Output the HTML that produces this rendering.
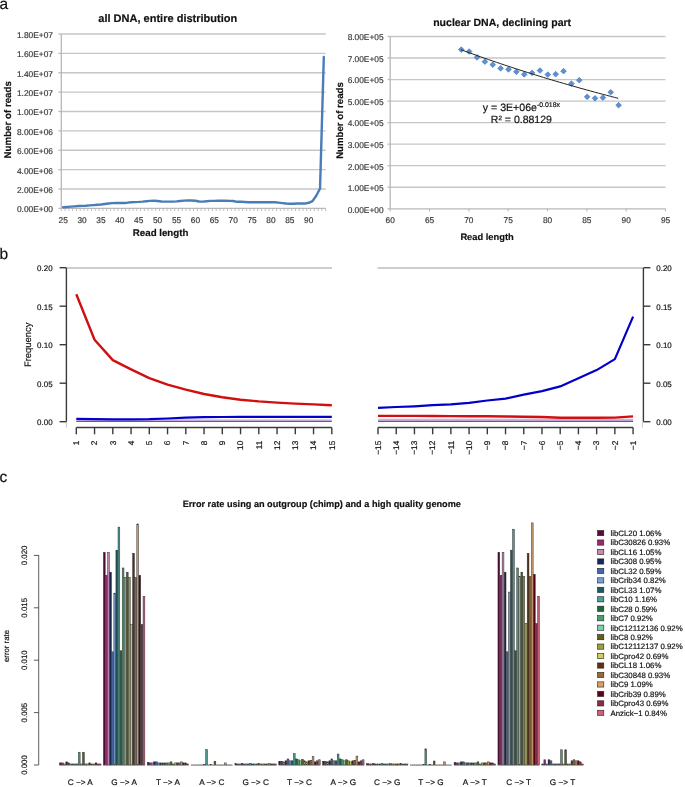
<!DOCTYPE html>
<html><head><meta charset="utf-8"><style>
html,body{margin:0;padding:0;background:#fff;width:685px;height:787px;overflow:hidden}
svg{display:block;will-change:transform;font-family:"Liberation Sans", sans-serif}
text{stroke-width:0.18px;text-rendering:geometricPrecision}
</style></head><body>
<svg width="685" height="787" viewBox="0 0 685 787">
<rect width="685" height="787" fill="#fff"/>
<text x="-0.5" y="9.2" font-size="15.5" fill="#111" stroke="#111">a</text>
<text x="-0.5" y="259.2" font-size="15.5" fill="#111" stroke="#111">b</text>
<text x="-0.5" y="481.8" font-size="15.5" fill="#111" stroke="#111">c</text>
<line x1="61.3" y1="189.02" x2="325.7" y2="189.02" stroke="#c6c6c6" stroke-width="1.3"/>
<line x1="61.3" y1="169.64" x2="325.7" y2="169.64" stroke="#c6c6c6" stroke-width="1.3"/>
<line x1="61.3" y1="150.26" x2="325.7" y2="150.26" stroke="#c6c6c6" stroke-width="1.3"/>
<line x1="61.3" y1="130.88" x2="325.7" y2="130.88" stroke="#c6c6c6" stroke-width="1.3"/>
<line x1="61.3" y1="111.5" x2="325.7" y2="111.5" stroke="#c6c6c6" stroke-width="1.3"/>
<line x1="61.3" y1="92.12" x2="325.7" y2="92.12" stroke="#c6c6c6" stroke-width="1.3"/>
<line x1="61.3" y1="72.74" x2="325.7" y2="72.74" stroke="#c6c6c6" stroke-width="1.3"/>
<line x1="61.3" y1="53.36" x2="325.7" y2="53.36" stroke="#c6c6c6" stroke-width="1.3"/>
<line x1="61.3" y1="33.98" x2="325.7" y2="33.98" stroke="#c6c6c6" stroke-width="1.3"/>
<line x1="61.3" y1="33.98" x2="61.3" y2="208.4" stroke="#b8b8b8" stroke-width="1.3"/>
<line x1="58.4" y1="208.4" x2="61.3" y2="208.4" stroke="#b8b8b8" stroke-width="1.3"/>
<text x="53" y="212.3" font-size="8.4" fill="#383838" stroke="#383838" text-anchor="end">0.00E+00</text>
<line x1="58.4" y1="189.02" x2="61.3" y2="189.02" stroke="#b8b8b8" stroke-width="1.3"/>
<text x="53" y="192.92" font-size="8.4" fill="#383838" stroke="#383838" text-anchor="end">2.00E+06</text>
<line x1="58.4" y1="169.64" x2="61.3" y2="169.64" stroke="#b8b8b8" stroke-width="1.3"/>
<text x="53" y="173.54" font-size="8.4" fill="#383838" stroke="#383838" text-anchor="end">4.00E+06</text>
<line x1="58.4" y1="150.26" x2="61.3" y2="150.26" stroke="#b8b8b8" stroke-width="1.3"/>
<text x="53" y="154.16" font-size="8.4" fill="#383838" stroke="#383838" text-anchor="end">6.00E+06</text>
<line x1="58.4" y1="130.88" x2="61.3" y2="130.88" stroke="#b8b8b8" stroke-width="1.3"/>
<text x="53" y="134.78" font-size="8.4" fill="#383838" stroke="#383838" text-anchor="end">8.00E+06</text>
<line x1="58.4" y1="111.5" x2="61.3" y2="111.5" stroke="#b8b8b8" stroke-width="1.3"/>
<text x="53" y="115.4" font-size="8.4" fill="#383838" stroke="#383838" text-anchor="end">1.00E+07</text>
<line x1="58.4" y1="92.12" x2="61.3" y2="92.12" stroke="#b8b8b8" stroke-width="1.3"/>
<text x="53" y="96.02" font-size="8.4" fill="#383838" stroke="#383838" text-anchor="end">1.20E+07</text>
<line x1="58.4" y1="72.74" x2="61.3" y2="72.74" stroke="#b8b8b8" stroke-width="1.3"/>
<text x="53" y="76.64" font-size="8.4" fill="#383838" stroke="#383838" text-anchor="end">1.40E+07</text>
<line x1="58.4" y1="53.36" x2="61.3" y2="53.36" stroke="#b8b8b8" stroke-width="1.3"/>
<text x="53" y="57.26" font-size="8.4" fill="#383838" stroke="#383838" text-anchor="end">1.60E+07</text>
<line x1="58.4" y1="33.98" x2="61.3" y2="33.98" stroke="#b8b8b8" stroke-width="1.3"/>
<text x="53" y="37.88" font-size="8.4" fill="#383838" stroke="#383838" text-anchor="end">1.80E+07</text>
<line x1="61.3" y1="208.4" x2="325.7" y2="208.4" stroke="#b8b8b8" stroke-width="1.3"/>
<line x1="61.3" y1="208.4" x2="61.3" y2="211" stroke="#b8b8b8" stroke-width="0.9"/>
<line x1="65.08" y1="208.4" x2="65.08" y2="211" stroke="#b8b8b8" stroke-width="0.9"/>
<line x1="68.85" y1="208.4" x2="68.85" y2="211" stroke="#b8b8b8" stroke-width="0.9"/>
<line x1="72.63" y1="208.4" x2="72.63" y2="211" stroke="#b8b8b8" stroke-width="0.9"/>
<line x1="76.41" y1="208.4" x2="76.41" y2="211" stroke="#b8b8b8" stroke-width="0.9"/>
<line x1="80.19" y1="208.4" x2="80.19" y2="211" stroke="#b8b8b8" stroke-width="0.9"/>
<line x1="83.96" y1="208.4" x2="83.96" y2="211" stroke="#b8b8b8" stroke-width="0.9"/>
<line x1="87.74" y1="208.4" x2="87.74" y2="211" stroke="#b8b8b8" stroke-width="0.9"/>
<line x1="91.52" y1="208.4" x2="91.52" y2="211" stroke="#b8b8b8" stroke-width="0.9"/>
<line x1="95.29" y1="208.4" x2="95.29" y2="211" stroke="#b8b8b8" stroke-width="0.9"/>
<line x1="99.07" y1="208.4" x2="99.07" y2="211" stroke="#b8b8b8" stroke-width="0.9"/>
<line x1="102.85" y1="208.4" x2="102.85" y2="211" stroke="#b8b8b8" stroke-width="0.9"/>
<line x1="106.63" y1="208.4" x2="106.63" y2="211" stroke="#b8b8b8" stroke-width="0.9"/>
<line x1="110.4" y1="208.4" x2="110.4" y2="211" stroke="#b8b8b8" stroke-width="0.9"/>
<line x1="114.18" y1="208.4" x2="114.18" y2="211" stroke="#b8b8b8" stroke-width="0.9"/>
<line x1="117.96" y1="208.4" x2="117.96" y2="211" stroke="#b8b8b8" stroke-width="0.9"/>
<line x1="121.73" y1="208.4" x2="121.73" y2="211" stroke="#b8b8b8" stroke-width="0.9"/>
<line x1="125.51" y1="208.4" x2="125.51" y2="211" stroke="#b8b8b8" stroke-width="0.9"/>
<line x1="129.29" y1="208.4" x2="129.29" y2="211" stroke="#b8b8b8" stroke-width="0.9"/>
<line x1="133.07" y1="208.4" x2="133.07" y2="211" stroke="#b8b8b8" stroke-width="0.9"/>
<line x1="136.84" y1="208.4" x2="136.84" y2="211" stroke="#b8b8b8" stroke-width="0.9"/>
<line x1="140.62" y1="208.4" x2="140.62" y2="211" stroke="#b8b8b8" stroke-width="0.9"/>
<line x1="144.4" y1="208.4" x2="144.4" y2="211" stroke="#b8b8b8" stroke-width="0.9"/>
<line x1="148.17" y1="208.4" x2="148.17" y2="211" stroke="#b8b8b8" stroke-width="0.9"/>
<line x1="151.95" y1="208.4" x2="151.95" y2="211" stroke="#b8b8b8" stroke-width="0.9"/>
<line x1="155.73" y1="208.4" x2="155.73" y2="211" stroke="#b8b8b8" stroke-width="0.9"/>
<line x1="159.51" y1="208.4" x2="159.51" y2="211" stroke="#b8b8b8" stroke-width="0.9"/>
<line x1="163.28" y1="208.4" x2="163.28" y2="211" stroke="#b8b8b8" stroke-width="0.9"/>
<line x1="167.06" y1="208.4" x2="167.06" y2="211" stroke="#b8b8b8" stroke-width="0.9"/>
<line x1="170.84" y1="208.4" x2="170.84" y2="211" stroke="#b8b8b8" stroke-width="0.9"/>
<line x1="174.61" y1="208.4" x2="174.61" y2="211" stroke="#b8b8b8" stroke-width="0.9"/>
<line x1="178.39" y1="208.4" x2="178.39" y2="211" stroke="#b8b8b8" stroke-width="0.9"/>
<line x1="182.17" y1="208.4" x2="182.17" y2="211" stroke="#b8b8b8" stroke-width="0.9"/>
<line x1="185.95" y1="208.4" x2="185.95" y2="211" stroke="#b8b8b8" stroke-width="0.9"/>
<line x1="189.72" y1="208.4" x2="189.72" y2="211" stroke="#b8b8b8" stroke-width="0.9"/>
<line x1="193.5" y1="208.4" x2="193.5" y2="211" stroke="#b8b8b8" stroke-width="0.9"/>
<line x1="197.28" y1="208.4" x2="197.28" y2="211" stroke="#b8b8b8" stroke-width="0.9"/>
<line x1="201.05" y1="208.4" x2="201.05" y2="211" stroke="#b8b8b8" stroke-width="0.9"/>
<line x1="204.83" y1="208.4" x2="204.83" y2="211" stroke="#b8b8b8" stroke-width="0.9"/>
<line x1="208.61" y1="208.4" x2="208.61" y2="211" stroke="#b8b8b8" stroke-width="0.9"/>
<line x1="212.39" y1="208.4" x2="212.39" y2="211" stroke="#b8b8b8" stroke-width="0.9"/>
<line x1="216.16" y1="208.4" x2="216.16" y2="211" stroke="#b8b8b8" stroke-width="0.9"/>
<line x1="219.94" y1="208.4" x2="219.94" y2="211" stroke="#b8b8b8" stroke-width="0.9"/>
<line x1="223.72" y1="208.4" x2="223.72" y2="211" stroke="#b8b8b8" stroke-width="0.9"/>
<line x1="227.49" y1="208.4" x2="227.49" y2="211" stroke="#b8b8b8" stroke-width="0.9"/>
<line x1="231.27" y1="208.4" x2="231.27" y2="211" stroke="#b8b8b8" stroke-width="0.9"/>
<line x1="235.05" y1="208.4" x2="235.05" y2="211" stroke="#b8b8b8" stroke-width="0.9"/>
<line x1="238.83" y1="208.4" x2="238.83" y2="211" stroke="#b8b8b8" stroke-width="0.9"/>
<line x1="242.6" y1="208.4" x2="242.6" y2="211" stroke="#b8b8b8" stroke-width="0.9"/>
<line x1="246.38" y1="208.4" x2="246.38" y2="211" stroke="#b8b8b8" stroke-width="0.9"/>
<line x1="250.16" y1="208.4" x2="250.16" y2="211" stroke="#b8b8b8" stroke-width="0.9"/>
<line x1="253.93" y1="208.4" x2="253.93" y2="211" stroke="#b8b8b8" stroke-width="0.9"/>
<line x1="257.71" y1="208.4" x2="257.71" y2="211" stroke="#b8b8b8" stroke-width="0.9"/>
<line x1="261.49" y1="208.4" x2="261.49" y2="211" stroke="#b8b8b8" stroke-width="0.9"/>
<line x1="265.27" y1="208.4" x2="265.27" y2="211" stroke="#b8b8b8" stroke-width="0.9"/>
<line x1="269.04" y1="208.4" x2="269.04" y2="211" stroke="#b8b8b8" stroke-width="0.9"/>
<line x1="272.82" y1="208.4" x2="272.82" y2="211" stroke="#b8b8b8" stroke-width="0.9"/>
<line x1="276.6" y1="208.4" x2="276.6" y2="211" stroke="#b8b8b8" stroke-width="0.9"/>
<line x1="280.37" y1="208.4" x2="280.37" y2="211" stroke="#b8b8b8" stroke-width="0.9"/>
<line x1="284.15" y1="208.4" x2="284.15" y2="211" stroke="#b8b8b8" stroke-width="0.9"/>
<line x1="287.93" y1="208.4" x2="287.93" y2="211" stroke="#b8b8b8" stroke-width="0.9"/>
<line x1="291.71" y1="208.4" x2="291.71" y2="211" stroke="#b8b8b8" stroke-width="0.9"/>
<line x1="295.48" y1="208.4" x2="295.48" y2="211" stroke="#b8b8b8" stroke-width="0.9"/>
<line x1="299.26" y1="208.4" x2="299.26" y2="211" stroke="#b8b8b8" stroke-width="0.9"/>
<line x1="303.04" y1="208.4" x2="303.04" y2="211" stroke="#b8b8b8" stroke-width="0.9"/>
<line x1="306.81" y1="208.4" x2="306.81" y2="211" stroke="#b8b8b8" stroke-width="0.9"/>
<line x1="310.59" y1="208.4" x2="310.59" y2="211" stroke="#b8b8b8" stroke-width="0.9"/>
<line x1="314.37" y1="208.4" x2="314.37" y2="211" stroke="#b8b8b8" stroke-width="0.9"/>
<line x1="318.15" y1="208.4" x2="318.15" y2="211" stroke="#b8b8b8" stroke-width="0.9"/>
<line x1="321.92" y1="208.4" x2="321.92" y2="211" stroke="#b8b8b8" stroke-width="0.9"/>
<line x1="325.7" y1="208.4" x2="325.7" y2="211" stroke="#b8b8b8" stroke-width="0.9"/>
<text x="63.19" y="222.6" font-size="8.3" fill="#383838" stroke="#383838" text-anchor="middle">25</text>
<text x="82.07" y="222.6" font-size="8.3" fill="#383838" stroke="#383838" text-anchor="middle">30</text>
<text x="100.96" y="222.6" font-size="8.3" fill="#383838" stroke="#383838" text-anchor="middle">35</text>
<text x="119.85" y="222.6" font-size="8.3" fill="#383838" stroke="#383838" text-anchor="middle">40</text>
<text x="138.73" y="222.6" font-size="8.3" fill="#383838" stroke="#383838" text-anchor="middle">45</text>
<text x="157.62" y="222.6" font-size="8.3" fill="#383838" stroke="#383838" text-anchor="middle">50</text>
<text x="176.5" y="222.6" font-size="8.3" fill="#383838" stroke="#383838" text-anchor="middle">55</text>
<text x="195.39" y="222.6" font-size="8.3" fill="#383838" stroke="#383838" text-anchor="middle">60</text>
<text x="214.27" y="222.6" font-size="8.3" fill="#383838" stroke="#383838" text-anchor="middle">65</text>
<text x="233.16" y="222.6" font-size="8.3" fill="#383838" stroke="#383838" text-anchor="middle">70</text>
<text x="252.05" y="222.6" font-size="8.3" fill="#383838" stroke="#383838" text-anchor="middle">75</text>
<text x="270.93" y="222.6" font-size="8.3" fill="#383838" stroke="#383838" text-anchor="middle">80</text>
<text x="289.82" y="222.6" font-size="8.3" fill="#383838" stroke="#383838" text-anchor="middle">85</text>
<text x="308.7" y="222.6" font-size="8.3" fill="#383838" stroke="#383838" text-anchor="middle">90</text>
<polyline points="63.19,207.24 66.97,206.95 70.74,206.66 74.52,206.37 78.3,206.07 82.07,205.88 85.85,205.69 89.63,205.4 93.41,205.11 97.18,204.81 100.96,204.52 104.74,204.04 108.51,203.56 112.29,203.17 116.07,202.97 119.85,202.97 123.62,202.97 127.4,202.68 131.18,202.3 134.95,202.1 138.73,201.91 142.51,201.62 146.29,201.23 150.06,200.84 153.84,200.74 157.62,200.94 161.39,201.52 165.17,201.62 168.95,201.62 172.73,201.62 176.5,201.42 180.28,201.04 184.06,200.65 187.83,200.55 191.61,200.55 195.39,200.74 199.17,201.52 202.94,201.62 206.72,201.23 210.5,200.84 214.27,200.84 218.05,200.74 221.83,200.74 225.61,200.74 229.38,200.84 233.16,201.04 236.94,201.81 240.71,201.62 244.49,202 248.27,202.3 252.05,202.3 255.82,202.3 259.6,202.3 263.38,202.3 267.15,202.3 270.93,202.2 274.71,202.2 278.49,202.59 282.26,203.07 286.04,203.56 289.82,203.75 293.59,203.75 297.37,203.56 301.15,203.36 304.93,203.56 308.7,202.78 312.48,201.13 316.26,195.8 320.03,188.54 323.81,56.95" fill="none" stroke="#4a7cb8" stroke-width="2.4" stroke-linejoin="round" stroke-linecap="round"/>
<text x="98.3" y="21.8" font-size="11.03" font-weight="bold" fill="#111" stroke="#111">all DNA, entire distribution</text>
<text x="132.8" y="236.1" font-size="9.72" font-weight="bold" fill="#111" stroke="#111">Read length</text>
<text transform="translate(10.8,119.8) rotate(-90)" font-size="9.72" font-weight="bold" fill="#111" stroke="#111" text-anchor="middle">Number of reads</text>
<line x1="390.2" y1="187.26" x2="665.5" y2="187.26" stroke="#c6c6c6" stroke-width="1.3"/>
<line x1="390.2" y1="165.72" x2="665.5" y2="165.72" stroke="#c6c6c6" stroke-width="1.3"/>
<line x1="390.2" y1="144.18" x2="665.5" y2="144.18" stroke="#c6c6c6" stroke-width="1.3"/>
<line x1="390.2" y1="122.64" x2="665.5" y2="122.64" stroke="#c6c6c6" stroke-width="1.3"/>
<line x1="390.2" y1="101.1" x2="665.5" y2="101.1" stroke="#c6c6c6" stroke-width="1.3"/>
<line x1="390.2" y1="79.56" x2="665.5" y2="79.56" stroke="#c6c6c6" stroke-width="1.3"/>
<line x1="390.2" y1="58.02" x2="665.5" y2="58.02" stroke="#c6c6c6" stroke-width="1.3"/>
<line x1="390.2" y1="36.48" x2="665.5" y2="36.48" stroke="#c6c6c6" stroke-width="1.3"/>
<line x1="390.2" y1="36.48" x2="390.2" y2="208.8" stroke="#b8b8b8" stroke-width="1.3"/>
<line x1="387.6" y1="208.8" x2="390.2" y2="208.8" stroke="#b8b8b8" stroke-width="1.3"/>
<text x="383.6" y="212.6" font-size="8.35" fill="#383838" stroke="#383838" text-anchor="end">0.00E+00</text>
<line x1="387.6" y1="187.26" x2="390.2" y2="187.26" stroke="#b8b8b8" stroke-width="1.3"/>
<text x="383.6" y="191.06" font-size="8.35" fill="#383838" stroke="#383838" text-anchor="end">1.00E+05</text>
<line x1="387.6" y1="165.72" x2="390.2" y2="165.72" stroke="#b8b8b8" stroke-width="1.3"/>
<text x="383.6" y="169.52" font-size="8.35" fill="#383838" stroke="#383838" text-anchor="end">2.00E+05</text>
<line x1="387.6" y1="144.18" x2="390.2" y2="144.18" stroke="#b8b8b8" stroke-width="1.3"/>
<text x="383.6" y="147.98" font-size="8.35" fill="#383838" stroke="#383838" text-anchor="end">3.00E+05</text>
<line x1="387.6" y1="122.64" x2="390.2" y2="122.64" stroke="#b8b8b8" stroke-width="1.3"/>
<text x="383.6" y="126.44" font-size="8.35" fill="#383838" stroke="#383838" text-anchor="end">4.00E+05</text>
<line x1="387.6" y1="101.1" x2="390.2" y2="101.1" stroke="#b8b8b8" stroke-width="1.3"/>
<text x="383.6" y="104.9" font-size="8.35" fill="#383838" stroke="#383838" text-anchor="end">5.00E+05</text>
<line x1="387.6" y1="79.56" x2="390.2" y2="79.56" stroke="#b8b8b8" stroke-width="1.3"/>
<text x="383.6" y="83.36" font-size="8.35" fill="#383838" stroke="#383838" text-anchor="end">6.00E+05</text>
<line x1="387.6" y1="58.02" x2="390.2" y2="58.02" stroke="#b8b8b8" stroke-width="1.3"/>
<text x="383.6" y="61.82" font-size="8.35" fill="#383838" stroke="#383838" text-anchor="end">7.00E+05</text>
<line x1="387.6" y1="36.48" x2="390.2" y2="36.48" stroke="#b8b8b8" stroke-width="1.3"/>
<text x="383.6" y="40.28" font-size="8.35" fill="#383838" stroke="#383838" text-anchor="end">8.00E+05</text>
<line x1="390.2" y1="208.8" x2="665.5" y2="208.8" stroke="#b8b8b8" stroke-width="1.3"/>
<line x1="390.2" y1="208.8" x2="390.2" y2="211.4" stroke="#b8b8b8" stroke-width="1.1"/>
<text x="390.2" y="222.9" font-size="8.3" fill="#383838" stroke="#383838" text-anchor="middle">60</text>
<line x1="429.53" y1="208.8" x2="429.53" y2="211.4" stroke="#b8b8b8" stroke-width="1.1"/>
<text x="429.53" y="222.9" font-size="8.3" fill="#383838" stroke="#383838" text-anchor="middle">65</text>
<line x1="468.86" y1="208.8" x2="468.86" y2="211.4" stroke="#b8b8b8" stroke-width="1.1"/>
<text x="468.86" y="222.9" font-size="8.3" fill="#383838" stroke="#383838" text-anchor="middle">70</text>
<line x1="508.19" y1="208.8" x2="508.19" y2="211.4" stroke="#b8b8b8" stroke-width="1.1"/>
<text x="508.19" y="222.9" font-size="8.3" fill="#383838" stroke="#383838" text-anchor="middle">75</text>
<line x1="547.51" y1="208.8" x2="547.51" y2="211.4" stroke="#b8b8b8" stroke-width="1.1"/>
<text x="547.51" y="222.9" font-size="8.3" fill="#383838" stroke="#383838" text-anchor="middle">80</text>
<line x1="586.84" y1="208.8" x2="586.84" y2="211.4" stroke="#b8b8b8" stroke-width="1.1"/>
<text x="586.84" y="222.9" font-size="8.3" fill="#383838" stroke="#383838" text-anchor="middle">85</text>
<line x1="626.17" y1="208.8" x2="626.17" y2="211.4" stroke="#b8b8b8" stroke-width="1.1"/>
<text x="626.17" y="222.9" font-size="8.3" fill="#383838" stroke="#383838" text-anchor="middle">90</text>
<line x1="665.5" y1="208.8" x2="665.5" y2="211.4" stroke="#b8b8b8" stroke-width="1.1"/>
<text x="665.5" y="222.9" font-size="8.3" fill="#383838" stroke="#383838" text-anchor="middle">95</text>
<path d="M461.29,46.75 L464.14,49.6 L461.29,52.45 L458.44,49.6 Z" fill="#5f90d4" stroke="#3f6fb5" stroke-width="0.6"/>
<path d="M469.16,48.69 L472.01,51.54 L469.16,54.39 L466.31,51.54 Z" fill="#5f90d4" stroke="#3f6fb5" stroke-width="0.6"/>
<path d="M477.02,54.51 L479.87,57.36 L477.02,60.21 L474.17,57.36 Z" fill="#5f90d4" stroke="#3f6fb5" stroke-width="0.6"/>
<path d="M484.89,58.82 L487.74,61.67 L484.89,64.52 L482.04,61.67 Z" fill="#5f90d4" stroke="#3f6fb5" stroke-width="0.6"/>
<path d="M492.75,61.83 L495.6,64.68 L492.75,67.53 L489.9,64.68 Z" fill="#5f90d4" stroke="#3f6fb5" stroke-width="0.6"/>
<path d="M500.62,65.49 L503.47,68.34 L500.62,71.19 L497.77,68.34 Z" fill="#5f90d4" stroke="#3f6fb5" stroke-width="0.6"/>
<path d="M508.49,66.57 L511.34,69.42 L508.49,72.27 L505.64,69.42 Z" fill="#5f90d4" stroke="#3f6fb5" stroke-width="0.6"/>
<path d="M516.35,68.94 L519.2,71.79 L516.35,74.64 L513.5,71.79 Z" fill="#5f90d4" stroke="#3f6fb5" stroke-width="0.6"/>
<path d="M524.22,71.53 L527.07,74.38 L524.22,77.23 L521.37,74.38 Z" fill="#5f90d4" stroke="#3f6fb5" stroke-width="0.6"/>
<path d="M532.08,70.02 L534.93,72.87 L532.08,75.72 L529.23,72.87 Z" fill="#5f90d4" stroke="#3f6fb5" stroke-width="0.6"/>
<path d="M539.95,67.65 L542.8,70.5 L539.95,73.35 L537.1,70.5 Z" fill="#5f90d4" stroke="#3f6fb5" stroke-width="0.6"/>
<path d="M547.81,71.74 L550.66,74.59 L547.81,77.44 L544.96,74.59 Z" fill="#5f90d4" stroke="#3f6fb5" stroke-width="0.6"/>
<path d="M555.68,71.31 L558.53,74.16 L555.68,77.01 L552.83,74.16 Z" fill="#5f90d4" stroke="#3f6fb5" stroke-width="0.6"/>
<path d="M563.55,68.29 L566.4,71.14 L563.55,73.99 L560.7,71.14 Z" fill="#5f90d4" stroke="#3f6fb5" stroke-width="0.6"/>
<path d="M571.41,80.79 L574.26,83.64 L571.41,86.49 L568.56,83.64 Z" fill="#5f90d4" stroke="#3f6fb5" stroke-width="0.6"/>
<path d="M579.28,77.34 L582.13,80.19 L579.28,83.04 L576.43,80.19 Z" fill="#5f90d4" stroke="#3f6fb5" stroke-width="0.6"/>
<path d="M587.14,93.93 L589.99,96.78 L587.14,99.63 L584.29,96.78 Z" fill="#5f90d4" stroke="#3f6fb5" stroke-width="0.6"/>
<path d="M595.01,95.43 L597.86,98.28 L595.01,101.13 L592.16,98.28 Z" fill="#5f90d4" stroke="#3f6fb5" stroke-width="0.6"/>
<path d="M602.87,94.79 L605.72,97.64 L602.87,100.49 L600.02,97.64 Z" fill="#5f90d4" stroke="#3f6fb5" stroke-width="0.6"/>
<path d="M610.74,89.4 L613.59,92.25 L610.74,95.1 L607.89,92.25 Z" fill="#5f90d4" stroke="#3f6fb5" stroke-width="0.6"/>
<path d="M618.61,102.33 L621.46,105.18 L618.61,108.03 L615.76,105.18 Z" fill="#5f90d4" stroke="#3f6fb5" stroke-width="0.6"/>
<polyline points="460.99,49.73 464.92,51.17 468.86,52.6 472.79,54.02 476.72,55.43 480.66,56.82 484.59,58.2 488.52,59.56 492.45,60.92 496.39,62.26 500.32,63.59 504.25,64.91 508.19,66.22 512.12,67.51 516.05,68.79 519.98,70.07 523.92,71.32 527.85,72.57 531.78,73.81 535.72,75.04 539.65,76.25 543.58,77.45 547.51,78.65 551.45,79.83 555.38,81 559.31,82.16 563.25,83.31 567.18,84.45 571.11,85.58 575.04,86.69 578.98,87.8 582.91,88.9 586.84,89.99 590.78,91.07 594.71,92.14 598.64,93.2 602.57,94.25 606.51,95.29 610.44,96.32 614.37,97.34 618.31,98.35" fill="none" stroke="#222" stroke-width="1"/>
<text x="482.8" y="110.8" font-size="10.58" fill="#111" stroke="#111">y = 3E+06e<tspan dy="-3.9" font-size="6.9">-0.018x</tspan></text>
<text x="490.8" y="123.4" font-size="10.53" fill="#111" stroke="#111">R² = 0.88129</text>
<text x="433.2" y="25.8" font-size="10.52" font-weight="bold" fill="#111" stroke="#111">nuclear DNA, declining part</text>
<text x="460.4" y="239.8" font-size="9.32" font-weight="bold" fill="#111" stroke="#111">Read length</text>
<text transform="translate(342.7,120.5) rotate(-90)" font-size="9.66" font-weight="bold" fill="#111" stroke="#111" text-anchor="middle">Number of reads</text>
<line x1="66.4" y1="268" x2="332" y2="268" stroke="#bdbdbd" stroke-width="1.4"/>
<line x1="66.4" y1="268" x2="66.4" y2="421.7" stroke="#3a3a3a" stroke-width="1.4"/>
<line x1="66.6" y1="421.7" x2="66.6" y2="427.5" stroke="#c8c8c8" stroke-width="1"/>
<line x1="59.6" y1="421.7" x2="66.4" y2="421.7" stroke="#3a3a3a" stroke-width="1.4"/>
<text x="52.6" y="425" font-size="7.96" fill="#111" stroke="#111" text-anchor="end">0.00</text>
<line x1="59.6" y1="383.2" x2="66.4" y2="383.2" stroke="#3a3a3a" stroke-width="1.4"/>
<text x="52.6" y="386.5" font-size="7.96" fill="#111" stroke="#111" text-anchor="end">0.05</text>
<line x1="59.6" y1="344.7" x2="66.4" y2="344.7" stroke="#3a3a3a" stroke-width="1.4"/>
<text x="52.6" y="348" font-size="7.96" fill="#111" stroke="#111" text-anchor="end">0.10</text>
<line x1="59.6" y1="306.2" x2="66.4" y2="306.2" stroke="#3a3a3a" stroke-width="1.4"/>
<text x="52.6" y="309.5" font-size="7.96" fill="#111" stroke="#111" text-anchor="end">0.15</text>
<line x1="59.6" y1="267.7" x2="66.4" y2="267.7" stroke="#3a3a3a" stroke-width="1.4"/>
<text x="52.6" y="271" font-size="7.96" fill="#111" stroke="#111" text-anchor="end">0.20</text>
<text transform="translate(31.2,344.8) rotate(-90)" font-size="9.41" fill="#111" stroke="#111" text-anchor="middle">Frequency</text>
<line x1="76.3" y1="427.5" x2="331.8" y2="427.5" stroke="#3a3a3a" stroke-width="1.4"/>
<line x1="76.3" y1="427.5" x2="76.3" y2="434.3" stroke="#3a3a3a" stroke-width="1.4"/>
<text transform="translate(79.1,440.7) rotate(-90)" font-size="8.3" fill="#111" stroke="#111" text-anchor="end">1</text>
<line x1="94.55" y1="427.5" x2="94.55" y2="434.3" stroke="#3a3a3a" stroke-width="1.4"/>
<text transform="translate(97.35,440.7) rotate(-90)" font-size="8.3" fill="#111" stroke="#111" text-anchor="end">2</text>
<line x1="112.8" y1="427.5" x2="112.8" y2="434.3" stroke="#3a3a3a" stroke-width="1.4"/>
<text transform="translate(115.6,440.7) rotate(-90)" font-size="8.3" fill="#111" stroke="#111" text-anchor="end">3</text>
<line x1="131.05" y1="427.5" x2="131.05" y2="434.3" stroke="#3a3a3a" stroke-width="1.4"/>
<text transform="translate(133.85,440.7) rotate(-90)" font-size="8.3" fill="#111" stroke="#111" text-anchor="end">4</text>
<line x1="149.3" y1="427.5" x2="149.3" y2="434.3" stroke="#3a3a3a" stroke-width="1.4"/>
<text transform="translate(152.1,440.7) rotate(-90)" font-size="8.3" fill="#111" stroke="#111" text-anchor="end">5</text>
<line x1="167.55" y1="427.5" x2="167.55" y2="434.3" stroke="#3a3a3a" stroke-width="1.4"/>
<text transform="translate(170.35,440.7) rotate(-90)" font-size="8.3" fill="#111" stroke="#111" text-anchor="end">6</text>
<line x1="185.8" y1="427.5" x2="185.8" y2="434.3" stroke="#3a3a3a" stroke-width="1.4"/>
<text transform="translate(188.6,440.7) rotate(-90)" font-size="8.3" fill="#111" stroke="#111" text-anchor="end">7</text>
<line x1="204.05" y1="427.5" x2="204.05" y2="434.3" stroke="#3a3a3a" stroke-width="1.4"/>
<text transform="translate(206.85,440.7) rotate(-90)" font-size="8.3" fill="#111" stroke="#111" text-anchor="end">8</text>
<line x1="222.3" y1="427.5" x2="222.3" y2="434.3" stroke="#3a3a3a" stroke-width="1.4"/>
<text transform="translate(225.1,440.7) rotate(-90)" font-size="8.3" fill="#111" stroke="#111" text-anchor="end">9</text>
<line x1="240.55" y1="427.5" x2="240.55" y2="434.3" stroke="#3a3a3a" stroke-width="1.4"/>
<text transform="translate(243.35,440.7) rotate(-90)" font-size="8.3" fill="#111" stroke="#111" text-anchor="end">10</text>
<line x1="258.8" y1="427.5" x2="258.8" y2="434.3" stroke="#3a3a3a" stroke-width="1.4"/>
<text transform="translate(261.6,440.7) rotate(-90)" font-size="8.3" fill="#111" stroke="#111" text-anchor="end">11</text>
<line x1="277.05" y1="427.5" x2="277.05" y2="434.3" stroke="#3a3a3a" stroke-width="1.4"/>
<text transform="translate(279.85,440.7) rotate(-90)" font-size="8.3" fill="#111" stroke="#111" text-anchor="end">12</text>
<line x1="295.3" y1="427.5" x2="295.3" y2="434.3" stroke="#3a3a3a" stroke-width="1.4"/>
<text transform="translate(298.1,440.7) rotate(-90)" font-size="8.3" fill="#111" stroke="#111" text-anchor="end">13</text>
<line x1="313.55" y1="427.5" x2="313.55" y2="434.3" stroke="#3a3a3a" stroke-width="1.4"/>
<text transform="translate(316.35,440.7) rotate(-90)" font-size="8.3" fill="#111" stroke="#111" text-anchor="end">14</text>
<line x1="331.8" y1="427.5" x2="331.8" y2="434.3" stroke="#3a3a3a" stroke-width="1.4"/>
<text transform="translate(334.6,440.7) rotate(-90)" font-size="8.3" fill="#111" stroke="#111" text-anchor="end">15</text>
<polyline points="76.3,421.3 94.55,421.3 112.8,421.3 131.05,421.3 149.3,421.3 167.55,421.3 185.8,421.3 204.05,421.3 222.3,421.3 240.55,421.3 258.8,421.3 277.05,421.3 295.3,421.3 313.55,421.3 331.8,421.3" fill="none" stroke="#7a48b0" stroke-width="1.4" stroke-linejoin="round" />
<polyline points="76.3,419.8 94.55,419.8 112.8,419.8 131.05,419.8 149.3,419.8 167.55,419.8 185.8,419.8 204.05,419.8 222.3,419.8 240.55,419.8 258.8,419.8 277.05,419.8 295.3,419.8 313.55,419.8 331.8,419.8" fill="none" stroke="#d8b8f0" stroke-width="1.0" stroke-linejoin="round" />
<polyline points="76.3,418.8 94.55,419.2 112.8,419.3 131.05,419.3 149.3,419.2 167.55,418.5 185.8,417.6 204.05,417.2 222.3,417 240.55,416.9 258.8,416.9 277.05,416.9 295.3,416.8 313.55,416.8 331.8,416.8" fill="none" stroke="#0000c8" stroke-width="2.2" stroke-linejoin="round" />
<polyline points="76.3,294.3 94.55,339.7 112.8,360.1 131.05,369.4 149.3,378.2 167.55,384.6 185.8,389.6 204.05,394 222.3,397.3 240.55,399.7 258.8,401.4 277.05,402.6 295.3,403.6 313.55,404.4 331.8,405.3" fill="none" stroke="#d01010" stroke-width="2.4" stroke-linejoin="round" />
<line x1="377.6" y1="268" x2="643.4" y2="268" stroke="#bdbdbd" stroke-width="1.4"/>
<line x1="643.4" y1="268" x2="643.4" y2="421.7" stroke="#3a3a3a" stroke-width="1.4"/>
<line x1="642.4" y1="421.7" x2="642.4" y2="427.5" stroke="#c8c8c8" stroke-width="1"/>
<line x1="643.4" y1="421.7" x2="650.4" y2="421.7" stroke="#3a3a3a" stroke-width="1.4"/>
<text x="656.3" y="425" font-size="7.96" fill="#111" stroke="#111">0.00</text>
<line x1="643.4" y1="383.2" x2="650.4" y2="383.2" stroke="#3a3a3a" stroke-width="1.4"/>
<text x="656.3" y="386.5" font-size="7.96" fill="#111" stroke="#111">0.05</text>
<line x1="643.4" y1="344.7" x2="650.4" y2="344.7" stroke="#3a3a3a" stroke-width="1.4"/>
<text x="656.3" y="348" font-size="7.96" fill="#111" stroke="#111">0.10</text>
<line x1="643.4" y1="306.2" x2="650.4" y2="306.2" stroke="#3a3a3a" stroke-width="1.4"/>
<text x="656.3" y="309.5" font-size="7.96" fill="#111" stroke="#111">0.15</text>
<line x1="643.4" y1="267.7" x2="650.4" y2="267.7" stroke="#3a3a3a" stroke-width="1.4"/>
<text x="656.3" y="271" font-size="7.96" fill="#111" stroke="#111">0.20</text>
<line x1="378" y1="427.5" x2="633.08" y2="427.5" stroke="#3a3a3a" stroke-width="1.4"/>
<line x1="378" y1="427.5" x2="378" y2="434.3" stroke="#3a3a3a" stroke-width="1.4"/>
<text transform="translate(380.8,440.7) rotate(-90)" font-size="8.3" fill="#111" stroke="#111" text-anchor="end">−15</text>
<line x1="396.22" y1="427.5" x2="396.22" y2="434.3" stroke="#3a3a3a" stroke-width="1.4"/>
<text transform="translate(399.02,440.7) rotate(-90)" font-size="8.3" fill="#111" stroke="#111" text-anchor="end">−14</text>
<line x1="414.44" y1="427.5" x2="414.44" y2="434.3" stroke="#3a3a3a" stroke-width="1.4"/>
<text transform="translate(417.24,440.7) rotate(-90)" font-size="8.3" fill="#111" stroke="#111" text-anchor="end">−13</text>
<line x1="432.66" y1="427.5" x2="432.66" y2="434.3" stroke="#3a3a3a" stroke-width="1.4"/>
<text transform="translate(435.46,440.7) rotate(-90)" font-size="8.3" fill="#111" stroke="#111" text-anchor="end">−12</text>
<line x1="450.88" y1="427.5" x2="450.88" y2="434.3" stroke="#3a3a3a" stroke-width="1.4"/>
<text transform="translate(453.68,440.7) rotate(-90)" font-size="8.3" fill="#111" stroke="#111" text-anchor="end">−11</text>
<line x1="469.1" y1="427.5" x2="469.1" y2="434.3" stroke="#3a3a3a" stroke-width="1.4"/>
<text transform="translate(471.9,440.7) rotate(-90)" font-size="8.3" fill="#111" stroke="#111" text-anchor="end">−10</text>
<line x1="487.32" y1="427.5" x2="487.32" y2="434.3" stroke="#3a3a3a" stroke-width="1.4"/>
<text transform="translate(490.12,440.7) rotate(-90)" font-size="8.3" fill="#111" stroke="#111" text-anchor="end">−9</text>
<line x1="505.54" y1="427.5" x2="505.54" y2="434.3" stroke="#3a3a3a" stroke-width="1.4"/>
<text transform="translate(508.34,440.7) rotate(-90)" font-size="8.3" fill="#111" stroke="#111" text-anchor="end">−8</text>
<line x1="523.76" y1="427.5" x2="523.76" y2="434.3" stroke="#3a3a3a" stroke-width="1.4"/>
<text transform="translate(526.56,440.7) rotate(-90)" font-size="8.3" fill="#111" stroke="#111" text-anchor="end">−7</text>
<line x1="541.98" y1="427.5" x2="541.98" y2="434.3" stroke="#3a3a3a" stroke-width="1.4"/>
<text transform="translate(544.78,440.7) rotate(-90)" font-size="8.3" fill="#111" stroke="#111" text-anchor="end">−6</text>
<line x1="560.2" y1="427.5" x2="560.2" y2="434.3" stroke="#3a3a3a" stroke-width="1.4"/>
<text transform="translate(563,440.7) rotate(-90)" font-size="8.3" fill="#111" stroke="#111" text-anchor="end">−5</text>
<line x1="578.42" y1="427.5" x2="578.42" y2="434.3" stroke="#3a3a3a" stroke-width="1.4"/>
<text transform="translate(581.22,440.7) rotate(-90)" font-size="8.3" fill="#111" stroke="#111" text-anchor="end">−4</text>
<line x1="596.64" y1="427.5" x2="596.64" y2="434.3" stroke="#3a3a3a" stroke-width="1.4"/>
<text transform="translate(599.44,440.7) rotate(-90)" font-size="8.3" fill="#111" stroke="#111" text-anchor="end">−3</text>
<line x1="614.86" y1="427.5" x2="614.86" y2="434.3" stroke="#3a3a3a" stroke-width="1.4"/>
<text transform="translate(617.66,440.7) rotate(-90)" font-size="8.3" fill="#111" stroke="#111" text-anchor="end">−2</text>
<line x1="633.08" y1="427.5" x2="633.08" y2="434.3" stroke="#3a3a3a" stroke-width="1.4"/>
<text transform="translate(635.88,440.7) rotate(-90)" font-size="8.3" fill="#111" stroke="#111" text-anchor="end">−1</text>
<polyline points="378,421.3 396.22,421.3 414.44,421.3 432.66,421.3 450.88,421.3 469.1,421.3 487.32,421.3 505.54,421.3 523.76,421.3 541.98,421.3 560.2,421.3 578.42,421.3 596.64,421.3 614.86,421.3 633.08,421.3" fill="none" stroke="#7a48b0" stroke-width="1.4" stroke-linejoin="round" />
<polyline points="378,419.3 396.22,419.3 414.44,419.3 432.66,419.3 450.88,419.3 469.1,419.3 487.32,419.3 505.54,419.3 523.76,419.3 541.98,419.3 560.2,419.3 578.42,419.3 596.64,419.3 614.86,419.3 633.08,419.3" fill="none" stroke="#f0a8c0" stroke-width="1.2" stroke-linejoin="round" />
<polyline points="378,415.9 396.22,415.9 414.44,415.9 432.66,416 450.88,416.1 469.1,416.2 487.32,416.3 505.54,416.5 523.76,416.7 541.98,417 560.2,417.7 578.42,417.8 596.64,417.8 614.86,417.6 633.08,416.4" fill="none" stroke="#d01010" stroke-width="2.4" stroke-linejoin="round" />
<polyline points="378,407.8 396.22,407 414.44,406.3 432.66,405.2 450.88,404.4 469.1,402.8 487.32,400.5 505.54,398.6 523.76,394.7 541.98,391.1 560.2,386.4 578.42,378.3 596.64,370.1 614.86,359.1 633.08,316.6" fill="none" stroke="#0000c8" stroke-width="2.2" stroke-linejoin="round" />
<rect x="59.56" y="762.9" width="1.79" height="2.1" fill="#4e0b33" stroke="#303030" stroke-width="0.48"/>
<rect x="61.65" y="762.9" width="1.79" height="2.1" fill="#892c67" stroke="#303030" stroke-width="0.48"/>
<rect x="63.73" y="763.95" width="1.79" height="1.05" fill="#ba86ad" stroke="#303030" stroke-width="0.48"/>
<rect x="65.82" y="761.86" width="1.79" height="3.14" fill="#16264d" stroke="#303030" stroke-width="0.48"/>
<rect x="67.91" y="762.9" width="1.79" height="2.1" fill="#426397" stroke="#303030" stroke-width="0.48"/>
<rect x="70" y="763.95" width="1.79" height="1.05" fill="#7898c6" stroke="#303030" stroke-width="0.48"/>
<rect x="72.08" y="763.95" width="1.79" height="1.05" fill="#215558" stroke="#303030" stroke-width="0.48"/>
<rect x="74.17" y="763.95" width="1.79" height="1.05" fill="#4d958f" stroke="#303030" stroke-width="0.48"/>
<rect x="76.26" y="763.95" width="1.79" height="1.05" fill="#215f38" stroke="#303030" stroke-width="0.48"/>
<rect x="78.35" y="752.21" width="1.79" height="12.79" fill="#4d956d" stroke="#303030" stroke-width="0.48"/>
<rect x="80.43" y="763.95" width="1.79" height="1.05" fill="#7bc3a2" stroke="#303030" stroke-width="0.48"/>
<rect x="82.52" y="752.21" width="1.79" height="12.79" fill="#5a5a20" stroke="#303030" stroke-width="0.48"/>
<rect x="84.61" y="763.95" width="1.79" height="1.05" fill="#919749" stroke="#303030" stroke-width="0.48"/>
<rect x="86.7" y="763.95" width="1.79" height="1.05" fill="#c5c563" stroke="#303030" stroke-width="0.48"/>
<rect x="88.78" y="762.9" width="1.79" height="2.1" fill="#562f15" stroke="#303030" stroke-width="0.48"/>
<rect x="90.87" y="763.95" width="1.79" height="1.05" fill="#8c653d" stroke="#303030" stroke-width="0.48"/>
<rect x="92.96" y="763.95" width="1.79" height="1.05" fill="#c89b6d" stroke="#303030" stroke-width="0.48"/>
<rect x="95.05" y="762.9" width="1.79" height="2.1" fill="#520418" stroke="#303030" stroke-width="0.48"/>
<rect x="97.13" y="763.95" width="1.79" height="1.05" fill="#802b45" stroke="#303030" stroke-width="0.48"/>
<rect x="99.22" y="763.95" width="1.79" height="1.05" fill="#bc6174" stroke="#303030" stroke-width="0.48"/>
<line x1="59.41" y1="765.2" x2="101.16" y2="765.2" stroke="#777" stroke-width="0.6"/>
<text x="80.28" y="785.2" font-size="8.2" fill="#111" stroke="#111" text-anchor="middle">C −> A</text>
<rect x="103.4" y="552.26" width="1.79" height="212.74" fill="#4e0b33" stroke="#303030" stroke-width="0.48"/>
<rect x="105.48" y="575.31" width="1.79" height="189.69" fill="#892c67" stroke="#303030" stroke-width="0.48"/>
<rect x="107.57" y="552.26" width="1.79" height="212.74" fill="#ba86ad" stroke="#303030" stroke-width="0.48"/>
<rect x="109.66" y="572.17" width="1.79" height="192.83" fill="#16264d" stroke="#303030" stroke-width="0.48"/>
<rect x="111.75" y="651.82" width="1.79" height="113.18" fill="#426397" stroke="#303030" stroke-width="0.48"/>
<rect x="113.84" y="593.13" width="1.79" height="171.87" fill="#7898c6" stroke="#303030" stroke-width="0.48"/>
<rect x="115.92" y="550.16" width="1.79" height="214.84" fill="#215558" stroke="#303030" stroke-width="0.48"/>
<rect x="118.01" y="527.1" width="1.79" height="237.9" fill="#4d958f" stroke="#303030" stroke-width="0.48"/>
<rect x="120.1" y="650.77" width="1.79" height="114.23" fill="#215f38" stroke="#303030" stroke-width="0.48"/>
<rect x="122.19" y="567.98" width="1.79" height="197.02" fill="#4d956d" stroke="#303030" stroke-width="0.48"/>
<rect x="124.27" y="577.41" width="1.79" height="187.59" fill="#7bc3a2" stroke="#303030" stroke-width="0.48"/>
<rect x="126.36" y="572.17" width="1.79" height="192.83" fill="#5a5a20" stroke="#303030" stroke-width="0.48"/>
<rect x="128.45" y="577.41" width="1.79" height="187.59" fill="#919749" stroke="#303030" stroke-width="0.48"/>
<rect x="130.54" y="624.57" width="1.79" height="140.43" fill="#c5c563" stroke="#303030" stroke-width="0.48"/>
<rect x="132.62" y="553.3" width="1.79" height="211.7" fill="#562f15" stroke="#303030" stroke-width="0.48"/>
<rect x="134.71" y="577.41" width="1.79" height="187.59" fill="#8c653d" stroke="#303030" stroke-width="0.48"/>
<rect x="136.8" y="523.96" width="1.79" height="241.04" fill="#c89b6d" stroke="#303030" stroke-width="0.48"/>
<rect x="138.89" y="575.31" width="1.79" height="189.69" fill="#520418" stroke="#303030" stroke-width="0.48"/>
<rect x="140.97" y="624.57" width="1.79" height="140.43" fill="#802b45" stroke="#303030" stroke-width="0.48"/>
<rect x="143.06" y="596.27" width="1.79" height="168.73" fill="#bc6174" stroke="#303030" stroke-width="0.48"/>
<line x1="103.25" y1="765.2" x2="145" y2="765.2" stroke="#777" stroke-width="0.6"/>
<text x="124.12" y="785.2" font-size="8.2" fill="#111" stroke="#111" text-anchor="middle">G −> A</text>
<rect x="147.24" y="762.38" width="1.79" height="2.62" fill="#4e0b33" stroke="#303030" stroke-width="0.48"/>
<rect x="149.32" y="762.9" width="1.79" height="2.1" fill="#892c67" stroke="#303030" stroke-width="0.48"/>
<rect x="151.41" y="762.9" width="1.79" height="2.1" fill="#ba86ad" stroke="#303030" stroke-width="0.48"/>
<rect x="153.5" y="761.86" width="1.79" height="3.14" fill="#16264d" stroke="#303030" stroke-width="0.48"/>
<rect x="155.59" y="761.86" width="1.79" height="3.14" fill="#426397" stroke="#303030" stroke-width="0.48"/>
<rect x="157.67" y="762.9" width="1.79" height="2.1" fill="#7898c6" stroke="#303030" stroke-width="0.48"/>
<rect x="159.76" y="762.9" width="1.79" height="2.1" fill="#215558" stroke="#303030" stroke-width="0.48"/>
<rect x="161.85" y="762.9" width="1.79" height="2.1" fill="#4d958f" stroke="#303030" stroke-width="0.48"/>
<rect x="163.94" y="762.9" width="1.79" height="2.1" fill="#215f38" stroke="#303030" stroke-width="0.48"/>
<rect x="166.03" y="762.9" width="1.79" height="2.1" fill="#4d956d" stroke="#303030" stroke-width="0.48"/>
<rect x="168.11" y="762.9" width="1.79" height="2.1" fill="#7bc3a2" stroke="#303030" stroke-width="0.48"/>
<rect x="170.2" y="761.86" width="1.79" height="3.14" fill="#5a5a20" stroke="#303030" stroke-width="0.48"/>
<rect x="172.29" y="763.95" width="1.79" height="1.05" fill="#919749" stroke="#303030" stroke-width="0.48"/>
<rect x="174.38" y="762.9" width="1.79" height="2.1" fill="#c5c563" stroke="#303030" stroke-width="0.48"/>
<rect x="176.46" y="762.9" width="1.79" height="2.1" fill="#562f15" stroke="#303030" stroke-width="0.48"/>
<rect x="178.55" y="762.9" width="1.79" height="2.1" fill="#8c653d" stroke="#303030" stroke-width="0.48"/>
<rect x="180.64" y="761.86" width="1.79" height="3.14" fill="#c89b6d" stroke="#303030" stroke-width="0.48"/>
<rect x="182.73" y="762.9" width="1.79" height="2.1" fill="#520418" stroke="#303030" stroke-width="0.48"/>
<rect x="184.81" y="762.9" width="1.79" height="2.1" fill="#802b45" stroke="#303030" stroke-width="0.48"/>
<rect x="186.9" y="763.95" width="1.79" height="1.05" fill="#bc6174" stroke="#303030" stroke-width="0.48"/>
<line x1="147.09" y1="765.2" x2="188.84" y2="765.2" stroke="#777" stroke-width="0.6"/>
<text x="167.96" y="785.2" font-size="8.2" fill="#111" stroke="#111" text-anchor="middle">T −> A</text>
<rect x="191.08" y="765" width="1.79" height="0.01" fill="#4e0b33" stroke="#303030" stroke-width="0.48"/>
<rect x="193.16" y="765" width="1.79" height="0.01" fill="#892c67" stroke="#303030" stroke-width="0.48"/>
<rect x="195.25" y="765" width="1.79" height="0.01" fill="#ba86ad" stroke="#303030" stroke-width="0.48"/>
<rect x="197.34" y="765" width="1.79" height="0.01" fill="#16264d" stroke="#303030" stroke-width="0.48"/>
<rect x="199.43" y="765" width="1.79" height="0.01" fill="#426397" stroke="#303030" stroke-width="0.48"/>
<rect x="201.51" y="765" width="1.79" height="0.01" fill="#7898c6" stroke="#303030" stroke-width="0.48"/>
<rect x="203.6" y="764.48" width="1.79" height="0.52" fill="#215558" stroke="#303030" stroke-width="0.48"/>
<rect x="205.69" y="749.7" width="1.79" height="15.3" fill="#4d958f" stroke="#303030" stroke-width="0.48"/>
<rect x="207.78" y="765" width="1.79" height="0.01" fill="#215f38" stroke="#303030" stroke-width="0.48"/>
<rect x="209.86" y="764.48" width="1.79" height="0.52" fill="#4d956d" stroke="#303030" stroke-width="0.48"/>
<rect x="211.95" y="765" width="1.79" height="0.01" fill="#7bc3a2" stroke="#303030" stroke-width="0.48"/>
<rect x="214.04" y="761.33" width="1.79" height="3.67" fill="#5a5a20" stroke="#303030" stroke-width="0.48"/>
<rect x="216.13" y="765" width="1.79" height="0.01" fill="#919749" stroke="#303030" stroke-width="0.48"/>
<rect x="218.22" y="765" width="1.79" height="0.01" fill="#c5c563" stroke="#303030" stroke-width="0.48"/>
<rect x="220.3" y="765" width="1.79" height="0.01" fill="#562f15" stroke="#303030" stroke-width="0.48"/>
<rect x="222.39" y="765" width="1.79" height="0.01" fill="#8c653d" stroke="#303030" stroke-width="0.48"/>
<rect x="224.48" y="762.9" width="1.79" height="2.1" fill="#c89b6d" stroke="#303030" stroke-width="0.48"/>
<rect x="226.57" y="765" width="1.79" height="0.01" fill="#520418" stroke="#303030" stroke-width="0.48"/>
<rect x="228.65" y="765" width="1.79" height="0.01" fill="#802b45" stroke="#303030" stroke-width="0.48"/>
<rect x="230.74" y="765" width="1.79" height="0.01" fill="#bc6174" stroke="#303030" stroke-width="0.48"/>
<line x1="190.93" y1="765.2" x2="232.68" y2="765.2" stroke="#777" stroke-width="0.6"/>
<text x="211.8" y="785.2" font-size="8.2" fill="#111" stroke="#111" text-anchor="middle">A −> C</text>
<rect x="234.92" y="763.74" width="1.79" height="1.26" fill="#4e0b33" stroke="#303030" stroke-width="0.48"/>
<rect x="237" y="763.95" width="1.79" height="1.05" fill="#892c67" stroke="#303030" stroke-width="0.48"/>
<rect x="239.09" y="763.95" width="1.79" height="1.05" fill="#ba86ad" stroke="#303030" stroke-width="0.48"/>
<rect x="241.18" y="763.43" width="1.79" height="1.57" fill="#16264d" stroke="#303030" stroke-width="0.48"/>
<rect x="243.27" y="763.95" width="1.79" height="1.05" fill="#426397" stroke="#303030" stroke-width="0.48"/>
<rect x="245.35" y="763.95" width="1.79" height="1.05" fill="#7898c6" stroke="#303030" stroke-width="0.48"/>
<rect x="247.44" y="763.95" width="1.79" height="1.05" fill="#215558" stroke="#303030" stroke-width="0.48"/>
<rect x="249.53" y="763.43" width="1.79" height="1.57" fill="#4d958f" stroke="#303030" stroke-width="0.48"/>
<rect x="251.62" y="763.95" width="1.79" height="1.05" fill="#215f38" stroke="#303030" stroke-width="0.48"/>
<rect x="253.7" y="763.95" width="1.79" height="1.05" fill="#4d956d" stroke="#303030" stroke-width="0.48"/>
<rect x="255.79" y="763.95" width="1.79" height="1.05" fill="#7bc3a2" stroke="#303030" stroke-width="0.48"/>
<rect x="257.88" y="763.74" width="1.79" height="1.26" fill="#5a5a20" stroke="#303030" stroke-width="0.48"/>
<rect x="259.97" y="763.95" width="1.79" height="1.05" fill="#919749" stroke="#303030" stroke-width="0.48"/>
<rect x="262.05" y="763.95" width="1.79" height="1.05" fill="#c5c563" stroke="#303030" stroke-width="0.48"/>
<rect x="264.14" y="763.95" width="1.79" height="1.05" fill="#562f15" stroke="#303030" stroke-width="0.48"/>
<rect x="266.23" y="763.95" width="1.79" height="1.05" fill="#8c653d" stroke="#303030" stroke-width="0.48"/>
<rect x="268.32" y="763.74" width="1.79" height="1.26" fill="#c89b6d" stroke="#303030" stroke-width="0.48"/>
<rect x="270.41" y="763.95" width="1.79" height="1.05" fill="#520418" stroke="#303030" stroke-width="0.48"/>
<rect x="272.49" y="763.95" width="1.79" height="1.05" fill="#802b45" stroke="#303030" stroke-width="0.48"/>
<rect x="274.58" y="763.95" width="1.79" height="1.05" fill="#bc6174" stroke="#303030" stroke-width="0.48"/>
<line x1="234.77" y1="765.2" x2="276.52" y2="765.2" stroke="#777" stroke-width="0.6"/>
<text x="255.64" y="785.2" font-size="8.2" fill="#111" stroke="#111" text-anchor="middle">G −> C</text>
<rect x="278.76" y="761.23" width="1.79" height="3.77" fill="#4e0b33" stroke="#303030" stroke-width="0.48"/>
<rect x="280.84" y="761.23" width="1.79" height="3.77" fill="#892c67" stroke="#303030" stroke-width="0.48"/>
<rect x="282.93" y="761.86" width="1.79" height="3.14" fill="#ba86ad" stroke="#303030" stroke-width="0.48"/>
<rect x="285.02" y="760.81" width="1.79" height="4.19" fill="#16264d" stroke="#303030" stroke-width="0.48"/>
<rect x="287.11" y="758.92" width="1.79" height="6.08" fill="#426397" stroke="#303030" stroke-width="0.48"/>
<rect x="289.19" y="760.81" width="1.79" height="4.19" fill="#7898c6" stroke="#303030" stroke-width="0.48"/>
<rect x="291.28" y="760.81" width="1.79" height="4.19" fill="#215558" stroke="#303030" stroke-width="0.48"/>
<rect x="293.37" y="753.58" width="1.79" height="11.42" fill="#4d958f" stroke="#303030" stroke-width="0.48"/>
<rect x="295.46" y="758.92" width="1.79" height="6.08" fill="#215f38" stroke="#303030" stroke-width="0.48"/>
<rect x="297.54" y="759.76" width="1.79" height="5.24" fill="#4d956d" stroke="#303030" stroke-width="0.48"/>
<rect x="299.63" y="760.81" width="1.79" height="4.19" fill="#7bc3a2" stroke="#303030" stroke-width="0.48"/>
<rect x="301.72" y="759.45" width="1.79" height="5.55" fill="#5a5a20" stroke="#303030" stroke-width="0.48"/>
<rect x="303.81" y="760.81" width="1.79" height="4.19" fill="#919749" stroke="#303030" stroke-width="0.48"/>
<rect x="305.89" y="761.86" width="1.79" height="3.14" fill="#c5c563" stroke="#303030" stroke-width="0.48"/>
<rect x="307.98" y="760.81" width="1.79" height="4.19" fill="#562f15" stroke="#303030" stroke-width="0.48"/>
<rect x="310.07" y="760.28" width="1.79" height="4.72" fill="#8c653d" stroke="#303030" stroke-width="0.48"/>
<rect x="312.16" y="756.62" width="1.79" height="8.38" fill="#c89b6d" stroke="#303030" stroke-width="0.48"/>
<rect x="314.24" y="761.86" width="1.79" height="3.14" fill="#520418" stroke="#303030" stroke-width="0.48"/>
<rect x="316.33" y="760.81" width="1.79" height="4.19" fill="#802b45" stroke="#303030" stroke-width="0.48"/>
<rect x="318.42" y="759.76" width="1.79" height="5.24" fill="#bc6174" stroke="#303030" stroke-width="0.48"/>
<line x1="278.61" y1="765.2" x2="320.36" y2="765.2" stroke="#777" stroke-width="0.6"/>
<text x="299.48" y="785.2" font-size="8.2" fill="#111" stroke="#111" text-anchor="middle">T −> C</text>
<rect x="322.6" y="761.23" width="1.79" height="3.77" fill="#4e0b33" stroke="#303030" stroke-width="0.48"/>
<rect x="324.68" y="761.23" width="1.79" height="3.77" fill="#892c67" stroke="#303030" stroke-width="0.48"/>
<rect x="326.77" y="761.86" width="1.79" height="3.14" fill="#ba86ad" stroke="#303030" stroke-width="0.48"/>
<rect x="328.86" y="760.81" width="1.79" height="4.19" fill="#16264d" stroke="#303030" stroke-width="0.48"/>
<rect x="330.95" y="758.92" width="1.79" height="6.08" fill="#426397" stroke="#303030" stroke-width="0.48"/>
<rect x="333.03" y="760.81" width="1.79" height="4.19" fill="#7898c6" stroke="#303030" stroke-width="0.48"/>
<rect x="335.12" y="760.81" width="1.79" height="4.19" fill="#215558" stroke="#303030" stroke-width="0.48"/>
<rect x="337.21" y="754" width="1.79" height="11" fill="#4d958f" stroke="#303030" stroke-width="0.48"/>
<rect x="339.3" y="758.92" width="1.79" height="6.08" fill="#215f38" stroke="#303030" stroke-width="0.48"/>
<rect x="341.38" y="759.76" width="1.79" height="5.24" fill="#4d956d" stroke="#303030" stroke-width="0.48"/>
<rect x="343.47" y="760.81" width="1.79" height="4.19" fill="#7bc3a2" stroke="#303030" stroke-width="0.48"/>
<rect x="345.56" y="759.76" width="1.79" height="5.24" fill="#5a5a20" stroke="#303030" stroke-width="0.48"/>
<rect x="347.65" y="760.81" width="1.79" height="4.19" fill="#919749" stroke="#303030" stroke-width="0.48"/>
<rect x="349.73" y="761.86" width="1.79" height="3.14" fill="#c5c563" stroke="#303030" stroke-width="0.48"/>
<rect x="351.82" y="760.81" width="1.79" height="4.19" fill="#562f15" stroke="#303030" stroke-width="0.48"/>
<rect x="353.91" y="760.28" width="1.79" height="4.72" fill="#8c653d" stroke="#303030" stroke-width="0.48"/>
<rect x="356" y="756.09" width="1.79" height="8.91" fill="#c89b6d" stroke="#303030" stroke-width="0.48"/>
<rect x="358.08" y="761.86" width="1.79" height="3.14" fill="#520418" stroke="#303030" stroke-width="0.48"/>
<rect x="360.17" y="760.81" width="1.79" height="4.19" fill="#802b45" stroke="#303030" stroke-width="0.48"/>
<rect x="362.26" y="759.76" width="1.79" height="5.24" fill="#bc6174" stroke="#303030" stroke-width="0.48"/>
<line x1="322.45" y1="765.2" x2="364.2" y2="765.2" stroke="#777" stroke-width="0.6"/>
<text x="343.32" y="785.2" font-size="8.2" fill="#111" stroke="#111" text-anchor="middle">A −> G</text>
<rect x="366.43" y="763.74" width="1.79" height="1.26" fill="#4e0b33" stroke="#303030" stroke-width="0.48"/>
<rect x="368.52" y="763.95" width="1.79" height="1.05" fill="#892c67" stroke="#303030" stroke-width="0.48"/>
<rect x="370.61" y="763.95" width="1.79" height="1.05" fill="#ba86ad" stroke="#303030" stroke-width="0.48"/>
<rect x="372.7" y="763.43" width="1.79" height="1.57" fill="#16264d" stroke="#303030" stroke-width="0.48"/>
<rect x="374.79" y="763.95" width="1.79" height="1.05" fill="#426397" stroke="#303030" stroke-width="0.48"/>
<rect x="376.87" y="763.95" width="1.79" height="1.05" fill="#7898c6" stroke="#303030" stroke-width="0.48"/>
<rect x="378.96" y="763.95" width="1.79" height="1.05" fill="#215558" stroke="#303030" stroke-width="0.48"/>
<rect x="381.05" y="763.43" width="1.79" height="1.57" fill="#4d958f" stroke="#303030" stroke-width="0.48"/>
<rect x="383.14" y="763.95" width="1.79" height="1.05" fill="#215f38" stroke="#303030" stroke-width="0.48"/>
<rect x="385.22" y="763.95" width="1.79" height="1.05" fill="#4d956d" stroke="#303030" stroke-width="0.48"/>
<rect x="387.31" y="763.95" width="1.79" height="1.05" fill="#7bc3a2" stroke="#303030" stroke-width="0.48"/>
<rect x="389.4" y="763.74" width="1.79" height="1.26" fill="#5a5a20" stroke="#303030" stroke-width="0.48"/>
<rect x="391.49" y="763.95" width="1.79" height="1.05" fill="#919749" stroke="#303030" stroke-width="0.48"/>
<rect x="393.57" y="763.95" width="1.79" height="1.05" fill="#c5c563" stroke="#303030" stroke-width="0.48"/>
<rect x="395.66" y="763.95" width="1.79" height="1.05" fill="#562f15" stroke="#303030" stroke-width="0.48"/>
<rect x="397.75" y="763.95" width="1.79" height="1.05" fill="#8c653d" stroke="#303030" stroke-width="0.48"/>
<rect x="399.84" y="763.74" width="1.79" height="1.26" fill="#c89b6d" stroke="#303030" stroke-width="0.48"/>
<rect x="401.92" y="763.95" width="1.79" height="1.05" fill="#520418" stroke="#303030" stroke-width="0.48"/>
<rect x="404.01" y="763.95" width="1.79" height="1.05" fill="#802b45" stroke="#303030" stroke-width="0.48"/>
<rect x="406.1" y="763.95" width="1.79" height="1.05" fill="#bc6174" stroke="#303030" stroke-width="0.48"/>
<line x1="366.28" y1="765.2" x2="408.04" y2="765.2" stroke="#777" stroke-width="0.6"/>
<text x="387.16" y="785.2" font-size="8.2" fill="#111" stroke="#111" text-anchor="middle">C −> G</text>
<rect x="410.27" y="765" width="1.79" height="0.01" fill="#4e0b33" stroke="#303030" stroke-width="0.48"/>
<rect x="412.36" y="765" width="1.79" height="0.01" fill="#892c67" stroke="#303030" stroke-width="0.48"/>
<rect x="414.45" y="765" width="1.79" height="0.01" fill="#ba86ad" stroke="#303030" stroke-width="0.48"/>
<rect x="416.54" y="765" width="1.79" height="0.01" fill="#16264d" stroke="#303030" stroke-width="0.48"/>
<rect x="418.62" y="765" width="1.79" height="0.01" fill="#426397" stroke="#303030" stroke-width="0.48"/>
<rect x="420.71" y="765" width="1.79" height="0.01" fill="#7898c6" stroke="#303030" stroke-width="0.48"/>
<rect x="422.8" y="764.48" width="1.79" height="0.52" fill="#215558" stroke="#303030" stroke-width="0.48"/>
<rect x="424.89" y="748.86" width="1.79" height="16.14" fill="#4d958f" stroke="#303030" stroke-width="0.48"/>
<rect x="426.98" y="765" width="1.79" height="0.01" fill="#215f38" stroke="#303030" stroke-width="0.48"/>
<rect x="429.06" y="764.48" width="1.79" height="0.52" fill="#4d956d" stroke="#303030" stroke-width="0.48"/>
<rect x="431.15" y="765" width="1.79" height="0.01" fill="#7bc3a2" stroke="#303030" stroke-width="0.48"/>
<rect x="433.24" y="761.02" width="1.79" height="3.98" fill="#5a5a20" stroke="#303030" stroke-width="0.48"/>
<rect x="435.33" y="765" width="1.79" height="0.01" fill="#919749" stroke="#303030" stroke-width="0.48"/>
<rect x="437.41" y="765" width="1.79" height="0.01" fill="#c5c563" stroke="#303030" stroke-width="0.48"/>
<rect x="439.5" y="765" width="1.79" height="0.01" fill="#562f15" stroke="#303030" stroke-width="0.48"/>
<rect x="441.59" y="765" width="1.79" height="0.01" fill="#8c653d" stroke="#303030" stroke-width="0.48"/>
<rect x="443.68" y="761.86" width="1.79" height="3.14" fill="#c89b6d" stroke="#303030" stroke-width="0.48"/>
<rect x="445.76" y="765" width="1.79" height="0.01" fill="#520418" stroke="#303030" stroke-width="0.48"/>
<rect x="447.85" y="765" width="1.79" height="0.01" fill="#802b45" stroke="#303030" stroke-width="0.48"/>
<rect x="449.94" y="765" width="1.79" height="0.01" fill="#bc6174" stroke="#303030" stroke-width="0.48"/>
<line x1="410.12" y1="765.2" x2="451.88" y2="765.2" stroke="#777" stroke-width="0.6"/>
<text x="431" y="785.2" font-size="8.2" fill="#111" stroke="#111" text-anchor="middle">T −> G</text>
<rect x="454.11" y="762.38" width="1.79" height="2.62" fill="#4e0b33" stroke="#303030" stroke-width="0.48"/>
<rect x="456.2" y="762.9" width="1.79" height="2.1" fill="#892c67" stroke="#303030" stroke-width="0.48"/>
<rect x="458.29" y="762.9" width="1.79" height="2.1" fill="#ba86ad" stroke="#303030" stroke-width="0.48"/>
<rect x="460.38" y="761.86" width="1.79" height="3.14" fill="#16264d" stroke="#303030" stroke-width="0.48"/>
<rect x="462.46" y="761.86" width="1.79" height="3.14" fill="#426397" stroke="#303030" stroke-width="0.48"/>
<rect x="464.55" y="762.9" width="1.79" height="2.1" fill="#7898c6" stroke="#303030" stroke-width="0.48"/>
<rect x="466.64" y="762.9" width="1.79" height="2.1" fill="#215558" stroke="#303030" stroke-width="0.48"/>
<rect x="468.73" y="762.9" width="1.79" height="2.1" fill="#4d958f" stroke="#303030" stroke-width="0.48"/>
<rect x="470.81" y="762.9" width="1.79" height="2.1" fill="#215f38" stroke="#303030" stroke-width="0.48"/>
<rect x="472.9" y="762.9" width="1.79" height="2.1" fill="#4d956d" stroke="#303030" stroke-width="0.48"/>
<rect x="474.99" y="762.9" width="1.79" height="2.1" fill="#7bc3a2" stroke="#303030" stroke-width="0.48"/>
<rect x="477.08" y="761.86" width="1.79" height="3.14" fill="#5a5a20" stroke="#303030" stroke-width="0.48"/>
<rect x="479.17" y="763.95" width="1.79" height="1.05" fill="#919749" stroke="#303030" stroke-width="0.48"/>
<rect x="481.25" y="762.9" width="1.79" height="2.1" fill="#c5c563" stroke="#303030" stroke-width="0.48"/>
<rect x="483.34" y="762.9" width="1.79" height="2.1" fill="#562f15" stroke="#303030" stroke-width="0.48"/>
<rect x="485.43" y="762.9" width="1.79" height="2.1" fill="#8c653d" stroke="#303030" stroke-width="0.48"/>
<rect x="487.52" y="761.86" width="1.79" height="3.14" fill="#c89b6d" stroke="#303030" stroke-width="0.48"/>
<rect x="489.6" y="762.9" width="1.79" height="2.1" fill="#520418" stroke="#303030" stroke-width="0.48"/>
<rect x="491.69" y="762.9" width="1.79" height="2.1" fill="#802b45" stroke="#303030" stroke-width="0.48"/>
<rect x="493.78" y="763.95" width="1.79" height="1.05" fill="#bc6174" stroke="#303030" stroke-width="0.48"/>
<line x1="453.96" y1="765.2" x2="495.72" y2="765.2" stroke="#777" stroke-width="0.6"/>
<text x="474.84" y="785.2" font-size="8.2" fill="#111" stroke="#111" text-anchor="middle">A −> T</text>
<rect x="497.95" y="552.26" width="1.79" height="212.74" fill="#4e0b33" stroke="#303030" stroke-width="0.48"/>
<rect x="500.04" y="575.31" width="1.79" height="189.69" fill="#892c67" stroke="#303030" stroke-width="0.48"/>
<rect x="502.13" y="552.26" width="1.79" height="212.74" fill="#ba86ad" stroke="#303030" stroke-width="0.48"/>
<rect x="504.22" y="572.17" width="1.79" height="192.83" fill="#16264d" stroke="#303030" stroke-width="0.48"/>
<rect x="506.3" y="651.82" width="1.79" height="113.18" fill="#426397" stroke="#303030" stroke-width="0.48"/>
<rect x="508.39" y="592.08" width="1.79" height="172.92" fill="#7898c6" stroke="#303030" stroke-width="0.48"/>
<rect x="510.48" y="550.16" width="1.79" height="214.84" fill="#215558" stroke="#303030" stroke-width="0.48"/>
<rect x="512.57" y="529.2" width="1.79" height="235.8" fill="#4d958f" stroke="#303030" stroke-width="0.48"/>
<rect x="514.65" y="650.77" width="1.79" height="114.23" fill="#215f38" stroke="#303030" stroke-width="0.48"/>
<rect x="516.74" y="567.98" width="1.79" height="197.02" fill="#4d956d" stroke="#303030" stroke-width="0.48"/>
<rect x="518.83" y="576.36" width="1.79" height="188.64" fill="#7bc3a2" stroke="#303030" stroke-width="0.48"/>
<rect x="520.92" y="572.17" width="1.79" height="192.83" fill="#5a5a20" stroke="#303030" stroke-width="0.48"/>
<rect x="523" y="576.36" width="1.79" height="188.64" fill="#919749" stroke="#303030" stroke-width="0.48"/>
<rect x="525.09" y="623.52" width="1.79" height="141.48" fill="#c5c563" stroke="#303030" stroke-width="0.48"/>
<rect x="527.18" y="553.3" width="1.79" height="211.7" fill="#562f15" stroke="#303030" stroke-width="0.48"/>
<rect x="529.27" y="576.36" width="1.79" height="188.64" fill="#8c653d" stroke="#303030" stroke-width="0.48"/>
<rect x="531.36" y="522.91" width="1.79" height="242.09" fill="#c89b6d" stroke="#303030" stroke-width="0.48"/>
<rect x="533.44" y="574.26" width="1.79" height="190.74" fill="#520418" stroke="#303030" stroke-width="0.48"/>
<rect x="535.53" y="623.52" width="1.79" height="141.48" fill="#802b45" stroke="#303030" stroke-width="0.48"/>
<rect x="537.62" y="596.27" width="1.79" height="168.73" fill="#bc6174" stroke="#303030" stroke-width="0.48"/>
<line x1="497.8" y1="765.2" x2="539.56" y2="765.2" stroke="#777" stroke-width="0.6"/>
<text x="518.68" y="785.2" font-size="8.2" fill="#111" stroke="#111" text-anchor="middle">C −> T</text>
<rect x="541.79" y="763.95" width="1.79" height="1.05" fill="#4e0b33" stroke="#303030" stroke-width="0.48"/>
<rect x="543.88" y="759.76" width="1.79" height="5.24" fill="#892c67" stroke="#303030" stroke-width="0.48"/>
<rect x="545.97" y="763.95" width="1.79" height="1.05" fill="#ba86ad" stroke="#303030" stroke-width="0.48"/>
<rect x="548.06" y="759.76" width="1.79" height="5.24" fill="#16264d" stroke="#303030" stroke-width="0.48"/>
<rect x="550.14" y="760.81" width="1.79" height="4.19" fill="#426397" stroke="#303030" stroke-width="0.48"/>
<rect x="552.23" y="763.95" width="1.79" height="1.05" fill="#7898c6" stroke="#303030" stroke-width="0.48"/>
<rect x="554.32" y="763.95" width="1.79" height="1.05" fill="#215558" stroke="#303030" stroke-width="0.48"/>
<rect x="556.41" y="763.95" width="1.79" height="1.05" fill="#4d958f" stroke="#303030" stroke-width="0.48"/>
<rect x="558.49" y="763.95" width="1.79" height="1.05" fill="#215f38" stroke="#303030" stroke-width="0.48"/>
<rect x="560.58" y="749.8" width="1.79" height="15.2" fill="#4d956d" stroke="#303030" stroke-width="0.48"/>
<rect x="562.67" y="763.95" width="1.79" height="1.05" fill="#7bc3a2" stroke="#303030" stroke-width="0.48"/>
<rect x="564.76" y="749.8" width="1.79" height="15.2" fill="#5a5a20" stroke="#303030" stroke-width="0.48"/>
<rect x="566.84" y="763.95" width="1.79" height="1.05" fill="#919749" stroke="#303030" stroke-width="0.48"/>
<rect x="568.93" y="763.95" width="1.79" height="1.05" fill="#c5c563" stroke="#303030" stroke-width="0.48"/>
<rect x="571.02" y="760.81" width="1.79" height="4.19" fill="#562f15" stroke="#303030" stroke-width="0.48"/>
<rect x="573.11" y="759.76" width="1.79" height="5.24" fill="#8c653d" stroke="#303030" stroke-width="0.48"/>
<rect x="575.19" y="760.81" width="1.79" height="4.19" fill="#c89b6d" stroke="#303030" stroke-width="0.48"/>
<rect x="577.28" y="760.81" width="1.79" height="4.19" fill="#520418" stroke="#303030" stroke-width="0.48"/>
<rect x="579.37" y="761.86" width="1.79" height="3.14" fill="#802b45" stroke="#303030" stroke-width="0.48"/>
<rect x="581.46" y="763.95" width="1.79" height="1.05" fill="#bc6174" stroke="#303030" stroke-width="0.48"/>
<line x1="541.64" y1="765.2" x2="583.4" y2="765.2" stroke="#777" stroke-width="0.6"/>
<text x="562.52" y="785.2" font-size="8.2" fill="#111" stroke="#111" text-anchor="middle">G −> T</text>
<line x1="38.7" y1="555" x2="38.7" y2="765" stroke="#333" stroke-width="0.8"/>
<line x1="33.9" y1="765" x2="38.7" y2="765" stroke="#333" stroke-width="0.8"/>
<text transform="translate(27.1,765) rotate(-90)" font-size="7.87" fill="#111" stroke="#111" text-anchor="middle">0.000</text>
<line x1="33.9" y1="712.6" x2="38.7" y2="712.6" stroke="#333" stroke-width="0.8"/>
<text transform="translate(27.1,712.6) rotate(-90)" font-size="7.87" fill="#111" stroke="#111" text-anchor="middle">0.005</text>
<line x1="33.9" y1="660.2" x2="38.7" y2="660.2" stroke="#333" stroke-width="0.8"/>
<text transform="translate(27.1,660.2) rotate(-90)" font-size="7.87" fill="#111" stroke="#111" text-anchor="middle">0.010</text>
<line x1="33.9" y1="607.8" x2="38.7" y2="607.8" stroke="#333" stroke-width="0.8"/>
<text transform="translate(27.1,607.8) rotate(-90)" font-size="7.87" fill="#111" stroke="#111" text-anchor="middle">0.015</text>
<line x1="33.9" y1="555.4" x2="38.7" y2="555.4" stroke="#333" stroke-width="0.8"/>
<text transform="translate(27.1,555.4) rotate(-90)" font-size="7.87" fill="#111" stroke="#111" text-anchor="middle">0.020</text>
<text transform="translate(9.4,646) rotate(-90)" font-size="7.82" fill="#111" stroke="#111" text-anchor="middle">error rate</text>
<text x="321.8" y="507.4" font-size="9.17" font-weight="bold" fill="#111" stroke="#111" text-anchor="middle">Error rate using an outgroup (chimp) and a high quality genome</text>
<rect x="597.6" y="530.5" width="6.2" height="5.2" fill="#5a0838" stroke="#222" stroke-width="0.6"/>
<text x="610.5" y="535.9" font-size="7.84" fill="#111" stroke="#111">libCL20 1.06%</text>
<rect x="597.6" y="539.96" width="6.2" height="5.2" fill="#9a2870" stroke="#222" stroke-width="0.6"/>
<text x="610.5" y="545.36" font-size="7.84" fill="#111" stroke="#111">libC30826 0.93%</text>
<rect x="597.6" y="549.42" width="6.2" height="5.2" fill="#c888b8" stroke="#222" stroke-width="0.6"/>
<text x="610.5" y="554.82" font-size="7.84" fill="#111" stroke="#111">libCL16 1.05%</text>
<rect x="597.6" y="558.88" width="6.2" height="5.2" fill="#142858" stroke="#222" stroke-width="0.6"/>
<text x="610.5" y="564.28" font-size="7.84" fill="#111" stroke="#111">libC308 0.95%</text>
<rect x="597.6" y="568.34" width="6.2" height="5.2" fill="#4068a8" stroke="#222" stroke-width="0.6"/>
<text x="610.5" y="573.74" font-size="7.84" fill="#111" stroke="#111">libCL32 0.59%</text>
<rect x="597.6" y="577.8" width="6.2" height="5.2" fill="#78a0d8" stroke="#222" stroke-width="0.6"/>
<text x="610.5" y="583.2" font-size="7.84" fill="#111" stroke="#111">libCrib34 0.82%</text>
<rect x="597.6" y="587.26" width="6.2" height="5.2" fill="#1c5c60" stroke="#222" stroke-width="0.6"/>
<text x="610.5" y="592.66" font-size="7.84" fill="#111" stroke="#111">libCL33 1.07%</text>
<rect x="597.6" y="596.72" width="6.2" height="5.2" fill="#48a098" stroke="#222" stroke-width="0.6"/>
<text x="610.5" y="602.12" font-size="7.84" fill="#111" stroke="#111">libC10 1.16%</text>
<rect x="597.6" y="606.18" width="6.2" height="5.2" fill="#1c6838" stroke="#222" stroke-width="0.6"/>
<text x="610.5" y="611.58" font-size="7.84" fill="#111" stroke="#111">libC28 0.59%</text>
<rect x="597.6" y="615.64" width="6.2" height="5.2" fill="#48a070" stroke="#222" stroke-width="0.6"/>
<text x="610.5" y="621.04" font-size="7.84" fill="#111" stroke="#111">libC7 0.92%</text>
<rect x="597.6" y="625.1" width="6.2" height="5.2" fill="#78d0a8" stroke="#222" stroke-width="0.6"/>
<text x="610.5" y="630.5" font-size="7.84" fill="#111" stroke="#111">libC12112136 0.92%</text>
<rect x="597.6" y="634.56" width="6.2" height="5.2" fill="#606018" stroke="#222" stroke-width="0.6"/>
<text x="610.5" y="639.96" font-size="7.84" fill="#111" stroke="#111">libC8 0.92%</text>
<rect x="597.6" y="644.02" width="6.2" height="5.2" fill="#98a040" stroke="#222" stroke-width="0.6"/>
<text x="610.5" y="649.42" font-size="7.84" fill="#111" stroke="#111">libC12112137 0.92%</text>
<rect x="597.6" y="653.48" width="6.2" height="5.2" fill="#d0d058" stroke="#222" stroke-width="0.6"/>
<text x="610.5" y="658.88" font-size="7.84" fill="#111" stroke="#111">libCpro42 0.69%</text>
<rect x="597.6" y="662.94" width="6.2" height="5.2" fill="#603010" stroke="#222" stroke-width="0.6"/>
<text x="610.5" y="668.34" font-size="7.84" fill="#111" stroke="#111">libCL18 1.06%</text>
<rect x="597.6" y="672.4" width="6.2" height="5.2" fill="#986838" stroke="#222" stroke-width="0.6"/>
<text x="610.5" y="677.8" font-size="7.84" fill="#111" stroke="#111">libC30848 0.93%</text>
<rect x="597.6" y="681.86" width="6.2" height="5.2" fill="#d8a068" stroke="#222" stroke-width="0.6"/>
<text x="610.5" y="687.26" font-size="7.84" fill="#111" stroke="#111">libC9 1.09%</text>
<rect x="597.6" y="691.32" width="6.2" height="5.2" fill="#600018" stroke="#222" stroke-width="0.6"/>
<text x="610.5" y="696.72" font-size="7.84" fill="#111" stroke="#111">libCrib39 0.89%</text>
<rect x="597.6" y="700.78" width="6.2" height="5.2" fill="#902848" stroke="#222" stroke-width="0.6"/>
<text x="610.5" y="706.18" font-size="7.84" fill="#111" stroke="#111">libCpro43 0.69%</text>
<rect x="597.6" y="710.24" width="6.2" height="5.2" fill="#d06078" stroke="#222" stroke-width="0.6"/>
<text x="610.5" y="715.64" font-size="7.84" fill="#111" stroke="#111">Anzick−1 0.84%</text>
</svg>
</body></html>
